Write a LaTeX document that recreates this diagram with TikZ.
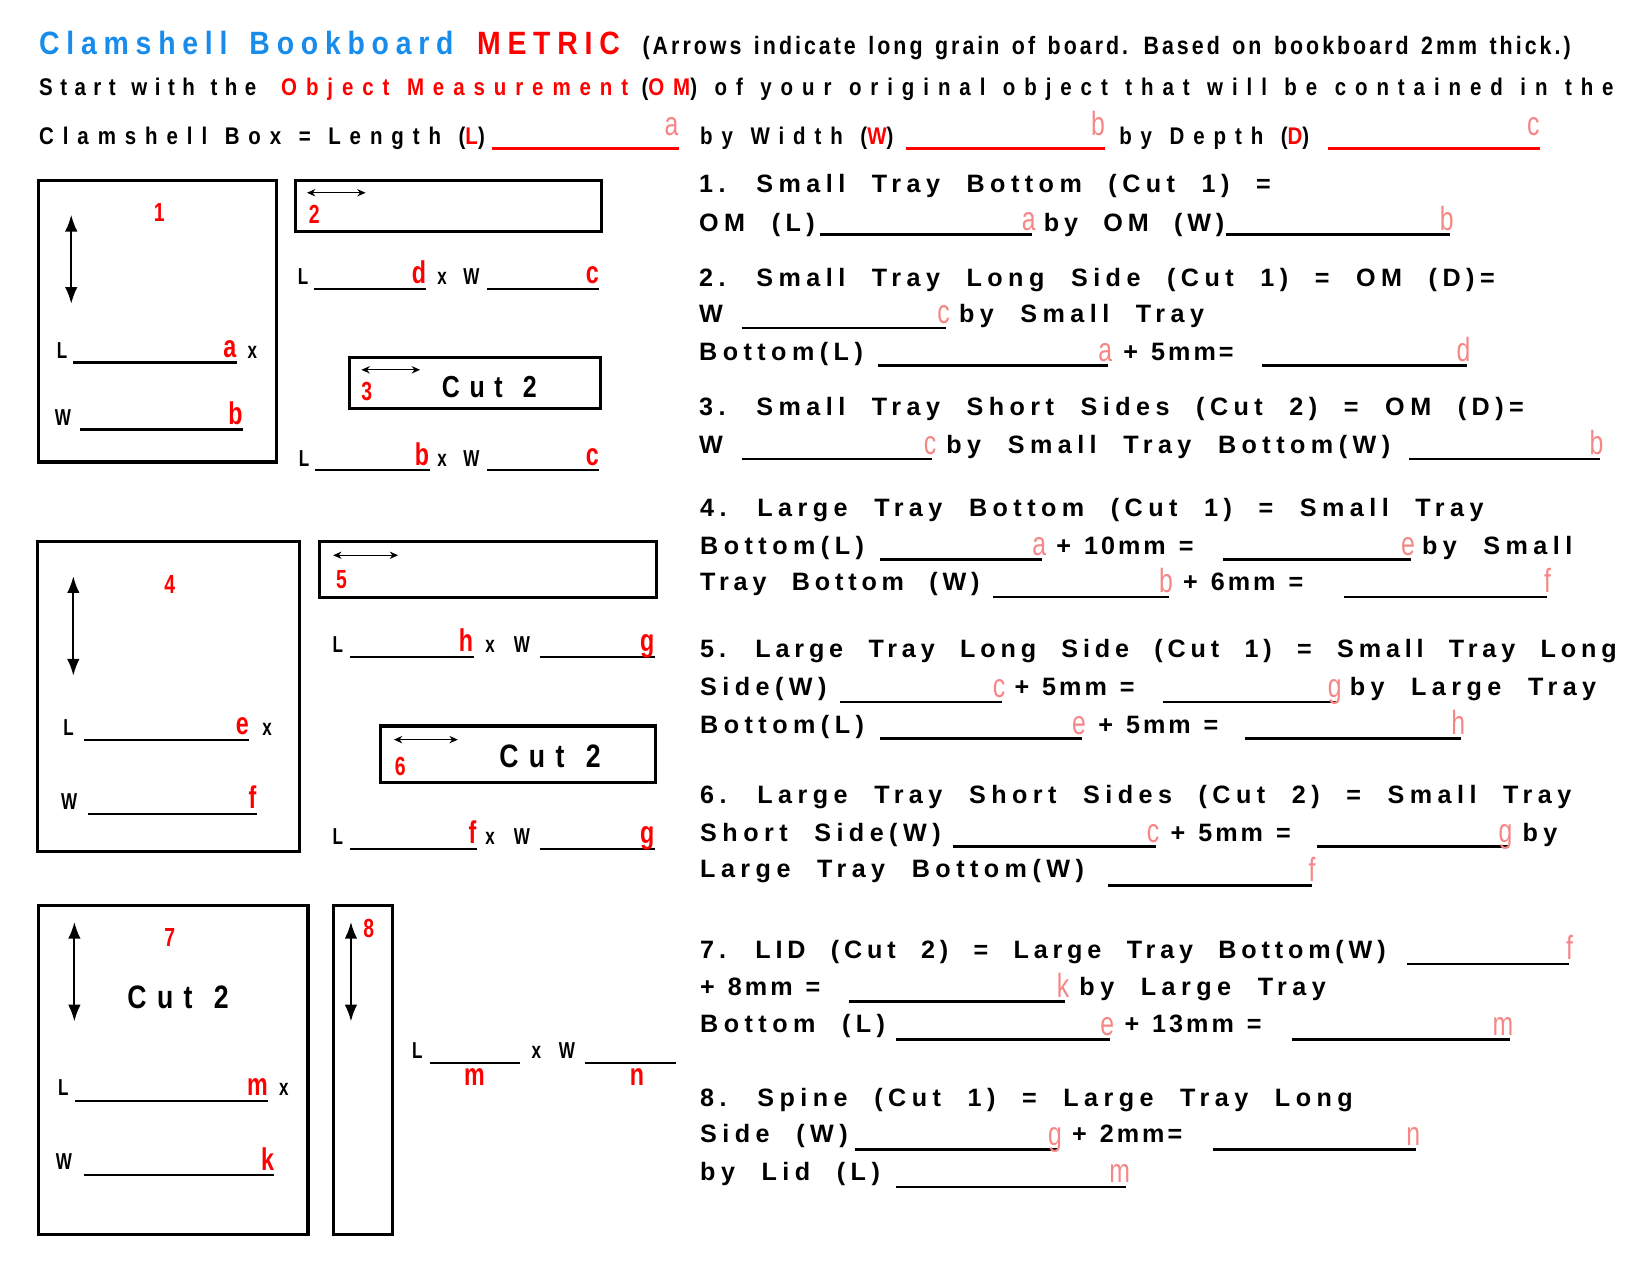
\documentclass[tikz,border=0pt]{standalone}
\usepackage{fontspec}
\usetikzlibrary{arrows.meta}
\setmainfont{Liberation Sans}
\newfontfamily\titlefont{Liberation Sans}[FakeStretch=0.88,LetterSpace=21,WordSpace=1.5]
\newfontfamily\notefont{Liberation Sans}[FakeStretch=0.85,LetterSpace=12,WordSpace=1.4]
\newfontfamily\headfont{Liberation Sans}[FakeStretch=0.85,LetterSpace=37,WordSpace=1.2]
\newfontfamily\spacedfont{Liberation Sans}[LetterSpace=21.7,WordSpace=2.14]
\newfontfamily\longfont{Liberation Sans}[LetterSpace=19.3,WordSpace=2.14]
\newfontfamily\sumfont{Liberation Sans}[LetterSpace=12,WordSpace=1.3]
\newfontfamily\cutfont{Liberation Sans}[FakeStretch=0.82,LetterSpace=32,WordSpace=1.2]
\newfontfamily\narrowfont{Liberation Sans}[FakeStretch=0.74]

\definecolor{titleblue}{RGB}{24,140,235}
\definecolor{softred}{RGB}{245,135,135}

\newcommand{\bodytext}{\spacedfont\bfseries\fontsize{12}{14}\selectfont}
\newcommand{\longtext}{\longfont\bfseries\fontsize{12}{14}\selectfont}
\newcommand{\sumtext}{\sumfont\bfseries\fontsize{12}{14}\selectfont}
\newcommand{\headtext}{\headfont\bfseries\fontsize{11.5}{14}\selectfont}

% blank with its letter (right column)
\newcommand{\answer}[4]{%
  \draw[ansline] (#1,#3) -- (#2,#3);
  \node[pinkltr] (a#4#2) at (#2+4,#3-4) {#4};}
% blank with its letter (pieces)
\newcommand{\sizeline}[4]{%
  \draw[boxline] (#1,#3) -- (#2,#3);
  \node[redltr] (s#4#2) at (#2,#3-5) {#4};}
% red blank of the object measurement
\newcommand{\omline}[4]{%
  \draw[omline] (#1,#3) -- (#2,#3);
  \node[pinkltr] (o#4#2) at (#2,#3-13) {#4};}

\begin{document}
\begin{tikzpicture}[x=0.5pt,y=-0.5pt]

    \tikzstyle{txt} = [anchor=base west, inner sep=0pt, font=\bodytext]
    \tikzstyle{tight} = [txt, font=\longtext]
    \tikzstyle{sum} = [txt, font=\sumtext]
    \tikzstyle{head} = [anchor=base west, inner sep=0pt, font=\headtext]
    \tikzstyle{small} = [anchor=base west, inner sep=0pt,
        font=\narrowfont\bfseries\fontsize{11}{13}\selectfont]
    \tikzstyle{pinkltr} = [anchor=base east, inner sep=0pt, text=softred,
        font=\narrowfont\fontsize{16}{18}\selectfont]
    \tikzstyle{redltr} = [anchor=base east, inner sep=0pt, text=red,
        font=\narrowfont\bfseries\fontsize{15}{17}\selectfont]
    \tikzstyle{num} = [inner sep=0pt, text=red,
        font=\narrowfont\bfseries\fontsize{12.5}{14}\selectfont]
    \tikzstyle{cut} = [inner sep=0pt, font=\cutfont\bfseries\fontsize{14.5}{16}\selectfont]
    \tikzstyle{piece} = [line width=1.5pt]
    \tikzstyle{ansline} = [line width=1.2pt]
    \tikzstyle{boxline} = [line width=1pt]
    \tikzstyle{omline} = [line width=1.5pt, red]
    \tikzstyle{grain} = [arrows=<->, >={Latex[length=8pt,width=6pt]}, line width=1pt]
    \tikzstyle{grainh} = [arrows=<->, >={Stealth[length=4pt,width=3.5pt]}, line width=.6pt]

    \useasboundingbox (0,0) rectangle (1575,1217);

    % Title and object measurement
    \node[anchor=base west, inner sep=0pt, text=titleblue,
        font=\titlefont\bfseries\fontsize{15.4}{18}\selectfont]
        (title) at (37,52) {Clamshell Bookboard};
    \node[anchor=base west, inner sep=0pt, text=red,
        font=\titlefont\bfseries\fontsize{15.4}{18}\selectfont]
        (metric) at (455,52) {METRIC};
    \node[anchor=base west, inner sep=0pt,
        font=\notefont\bfseries\fontsize{12}{14}\selectfont]
        (note) at (613,52) {(Arrows indicate long grain of board. Based on bookboard 2mm thick.)};

    \node[head, font=\headtext\addfontfeature{LetterSpace=31}] (start) at (37,91) {Start with the};
    \node[head, text=red] (objm) at (268,91) {Object Measurement};
    \node[head] (objt) at (612,91)
        {(\textcolor{red}{OM}) of your original object that will be contained in the};

    \node[head] (boxl) at (37,138) {Clamshell Box = Length (\textcolor{red}{L})};
    \omline{470}{648}{142}{a}
    \node[head] (boxw) at (668,138) {by Width (\textcolor{red}{W})};
    \omline{865}{1055}{142}{b}
    \node[head] (boxd) at (1068,138) {by Depth (\textcolor{red}{D})};
    \omline{1268}{1470}{142}{c}

    % Small tray bottom
    \draw[piece] (37,172) rectangle (264,441);
    \draw[grain] (68,205) -- (68,290);
    \node[num] (n1) at (152,203) {1};
    \node[small] (l1) at (54,342) {L};
    \sizeline{70}{226}{346}{a}
    \node[small] (x1) at (236,342) {x};
    \node[small] (w1) at (52,406) {W};
    \sizeline{76}{232}{410}{b}

    % Small tray long side
    \draw[piece] (282,172) rectangle (574,221);
    \draw[grainh] (293,184) -- (349,184);
    \node[num] (n2) at (300,205) {2};
    \node[small] (l2) at (284,272) {L};
    \sizeline{300}{407}{276}{d}
    \node[small] (x2) at (417,272) {x};
    \node[small] (w2) at (442,272) {W};
    \sizeline{465}{572}{276}{c}

    % Small tray short sides
    \draw[piece] (334,341) rectangle (573,390);
    \draw[grainh] (345,353) -- (401,353);
    \node[num] (n3) at (350,374) {3};
    \node[cut] (c3) at (467,369) {Cut 2};
    \node[small] (l3) at (285,445) {L};
    \sizeline{301}{410}{449}{b}
    \node[small] (x3) at (417,445) {x};
    \node[small] (w3) at (442,445) {W};
    \sizeline{465}{572}{449}{c}

    % Large tray bottom
    \draw[piece] (36,517) rectangle (286,813);
    \draw[grain] (70,550) -- (70,645);
    \node[num] (n4) at (162,558) {4};
    \node[small] (l4) at (60,702) {L};
    \sizeline{80}{238}{706}{e}
    \node[small] (x4) at (250,702) {x};
    \node[small] (w4) at (58,773) {W};
    \sizeline{84}{245}{777}{f}

    % Large tray long side
    \draw[piece] (305,517) rectangle (627,570);
    \draw[grainh] (318,530) -- (380,530);
    \node[num] (n5) at (326,553) {5};
    \node[small] (l5) at (317,623) {L};
    \sizeline{334}{452}{627}{h}
    \node[small] (x5) at (463,623) {x};
    \node[small] (w5) at (490,623) {W};
    \sizeline{515}{625}{627}{g}

    % Large tray short sides
    \draw[piece] (363,693) rectangle (626,747);
    \draw[grainh] (376,706) -- (437,706);
    \node[num] (n6) at (382,732) {6};
    \node[cut, font=\cutfont\bfseries\fontsize{15.5}{17}\selectfont] (c6) at (525,722) {Cut 2};
    \node[small] (l6) at (317,806) {L};
    \sizeline{334}{455}{810}{f}
    \node[small] (x6) at (463,806) {x};
    \node[small] (w6) at (490,806) {W};
    \sizeline{515}{625}{810}{g}

    % Lid
    \draw[piece] (37,864) rectangle (294,1178);
    \draw[grain] (71,880) -- (71,975);
    \node[num] (n7) at (162,895) {7};
    \node[cut, font=\cutfont\bfseries\fontsize{15.5}{17}\selectfont] (c7) at (170,952) {Cut 2};
    \node[small] (l7) at (55,1046) {L};
    \sizeline{72}{256}{1051}{m}
    \node[small] (x7) at (266,1046) {x};
    \node[small] (w7) at (53,1116) {W};
    \sizeline{80}{262}{1122}{k}

    % Spine
    \draw[piece] (318,864) rectangle (375,1178);
    \draw[grain] (335,880) -- (335,975);
    \node[num] (n8) at (352,886) {8};
    \node[small] (l8) at (393,1010) {L};
    \draw[boxline] (410,1015) -- (496,1015);
    \node[redltr, anchor=base] (m8) at (453,1036) {m};
    \node[small] (x8) at (507,1010) {x};
    \node[small] (w8) at (533,1010) {W};
    \draw[boxline] (558,1015) -- (645,1015);
    \node[redltr, anchor=base] (nn8) at (608,1036) {n};

    % 1. small tray bottom
    \node[txt] (t1) at (667,184) {1. Small Tray Bottom (Cut 1) =};
    \node[txt] (t1a) at (667,221) {OM (L)};
    \answer{783}{985}{224}{a}
    \node[tight] (t1b) at (996,221) {by OM (W)};
    \answer{1170}{1384}{224}{b}

    % 2. small tray long side
    \node[txt] (t2) at (667,273) {2. Small Tray Long Side (Cut 1) = OM (D)=};
    \node[txt] (t2a) at (667,308) {W};
    \answer{708}{903}{313}{c}
    \node[txt] (t2b) at (915,308) {by Small Tray};
    \node[txt] (t2c) at (667,344) {Bottom(L)};
    \answer{838}{1058}{349}{a}
    \node[sum] (t2d) at (1072,344) {+ 5mm=};
    \answer{1205}{1400}{349}{d}

    % 3. small tray short sides
    \node[txt] (t3) at (667,397) {3. Small Tray Short Sides (Cut 2) = OM (D)=};
    \node[txt] (t3a) at (667,433) {W};
    \answer{708}{890}{438}{c}
    \node[txt] (t3b) at (903,433) {by Small Tray Bottom(W)};
    \answer{1345}{1527}{438}{b}

    % 4. large tray bottom
    \node[txt] (t4) at (668,493) {4. Large Tray Bottom (Cut 1) = Small Tray};
    \node[txt] (t4a) at (668,529) {Bottom(L)};
    \answer{840}{995}{534}{a}
    \node[sum] (t4b) at (1008,529) {+ 10mm =};
    \answer{1167}{1347}{534}{e}
    \node[txt] (t4c) at (1357,529) {by Small};
    \node[tight] (t4d) at (668,564) {Tray Bottom (W)};
    \answer{948}{1116}{570}{b}
    \node[sum] (t4e) at (1129,564) {+ 6mm =};
    \answer{1283}{1477}{570}{f}

    % 5. large tray long side
    \node[tight] (t5) at (668,628) {5. Large Tray Long Side (Cut 1) = Small Tray Long};
    \node[txt] (t5a) at (668,664) {Side(W)};
    \answer{802}{956}{670}{c}
    \node[sum] (t5b) at (968,664) {+ 5mm =};
    \answer{1110}{1277}{670}{g}
    \node[txt] (t5c) at (1288,664) {by Large Tray};
    \node[txt] (t5d) at (668,700) {Bottom(L)};
    \answer{840}{1033}{705}{e}
    \node[sum] (t5e) at (1048,700) {+ 5mm =};
    \answer{1188}{1395}{705}{h}

    % 6. large tray short sides
    \node[txt] (t6) at (668,767) {6. Large Tray Short Sides (Cut 2) = Small Tray};
    \node[txt] (t6a) at (668,803) {Short Side(W)};
    \answer{910}{1103}{808}{c}
    \node[sum] (t6b) at (1117,803) {+ 5mm =};
    \answer{1257}{1440}{808}{g}
    \node[txt] (t6c) at (1453,803) {by};
    \node[txt] (t6d) at (668,838) {Large Tray Bottom(W)};
    \answer{1058}{1252}{845}{f}

    % 7. lid
    \node[tight] (t7) at (668,915) {7. LID (Cut 2) = Large Tray Bottom(W)};
    \answer{1343}{1498}{920}{f}
    \node[sum] (t7a) at (668,950) {+ 8mm =};
    \answer{810}{1017}{956}{k}
    \node[txt] (t7b) at (1030,950) {by Large Tray};
    \node[txt] (t7c) at (668,986) {Bottom (L)};
    \answer{855}{1060}{992}{e}
    \node[sum] (t7d) at (1073,986) {+ 13mm =};
    \answer{1233}{1441}{992}{m}

    % 8. spine
    \node[txt] (t8) at (668,1056) {8. Spine (Cut 1) = Large Tray Long};
    \node[txt] (t8a) at (668,1091) {Side (W)};
    \answer{816}{1010}{1097}{g}
    \node[sum] (t8b) at (1023,1091) {+ 2mm=};
    \answer{1158}{1352}{1097}{n}
    \node[txt] (t8c) at (668,1127) {by Lid (L)};
    \answer{855}{1075}{1133}{m}

\end{tikzpicture}
\end{document}
